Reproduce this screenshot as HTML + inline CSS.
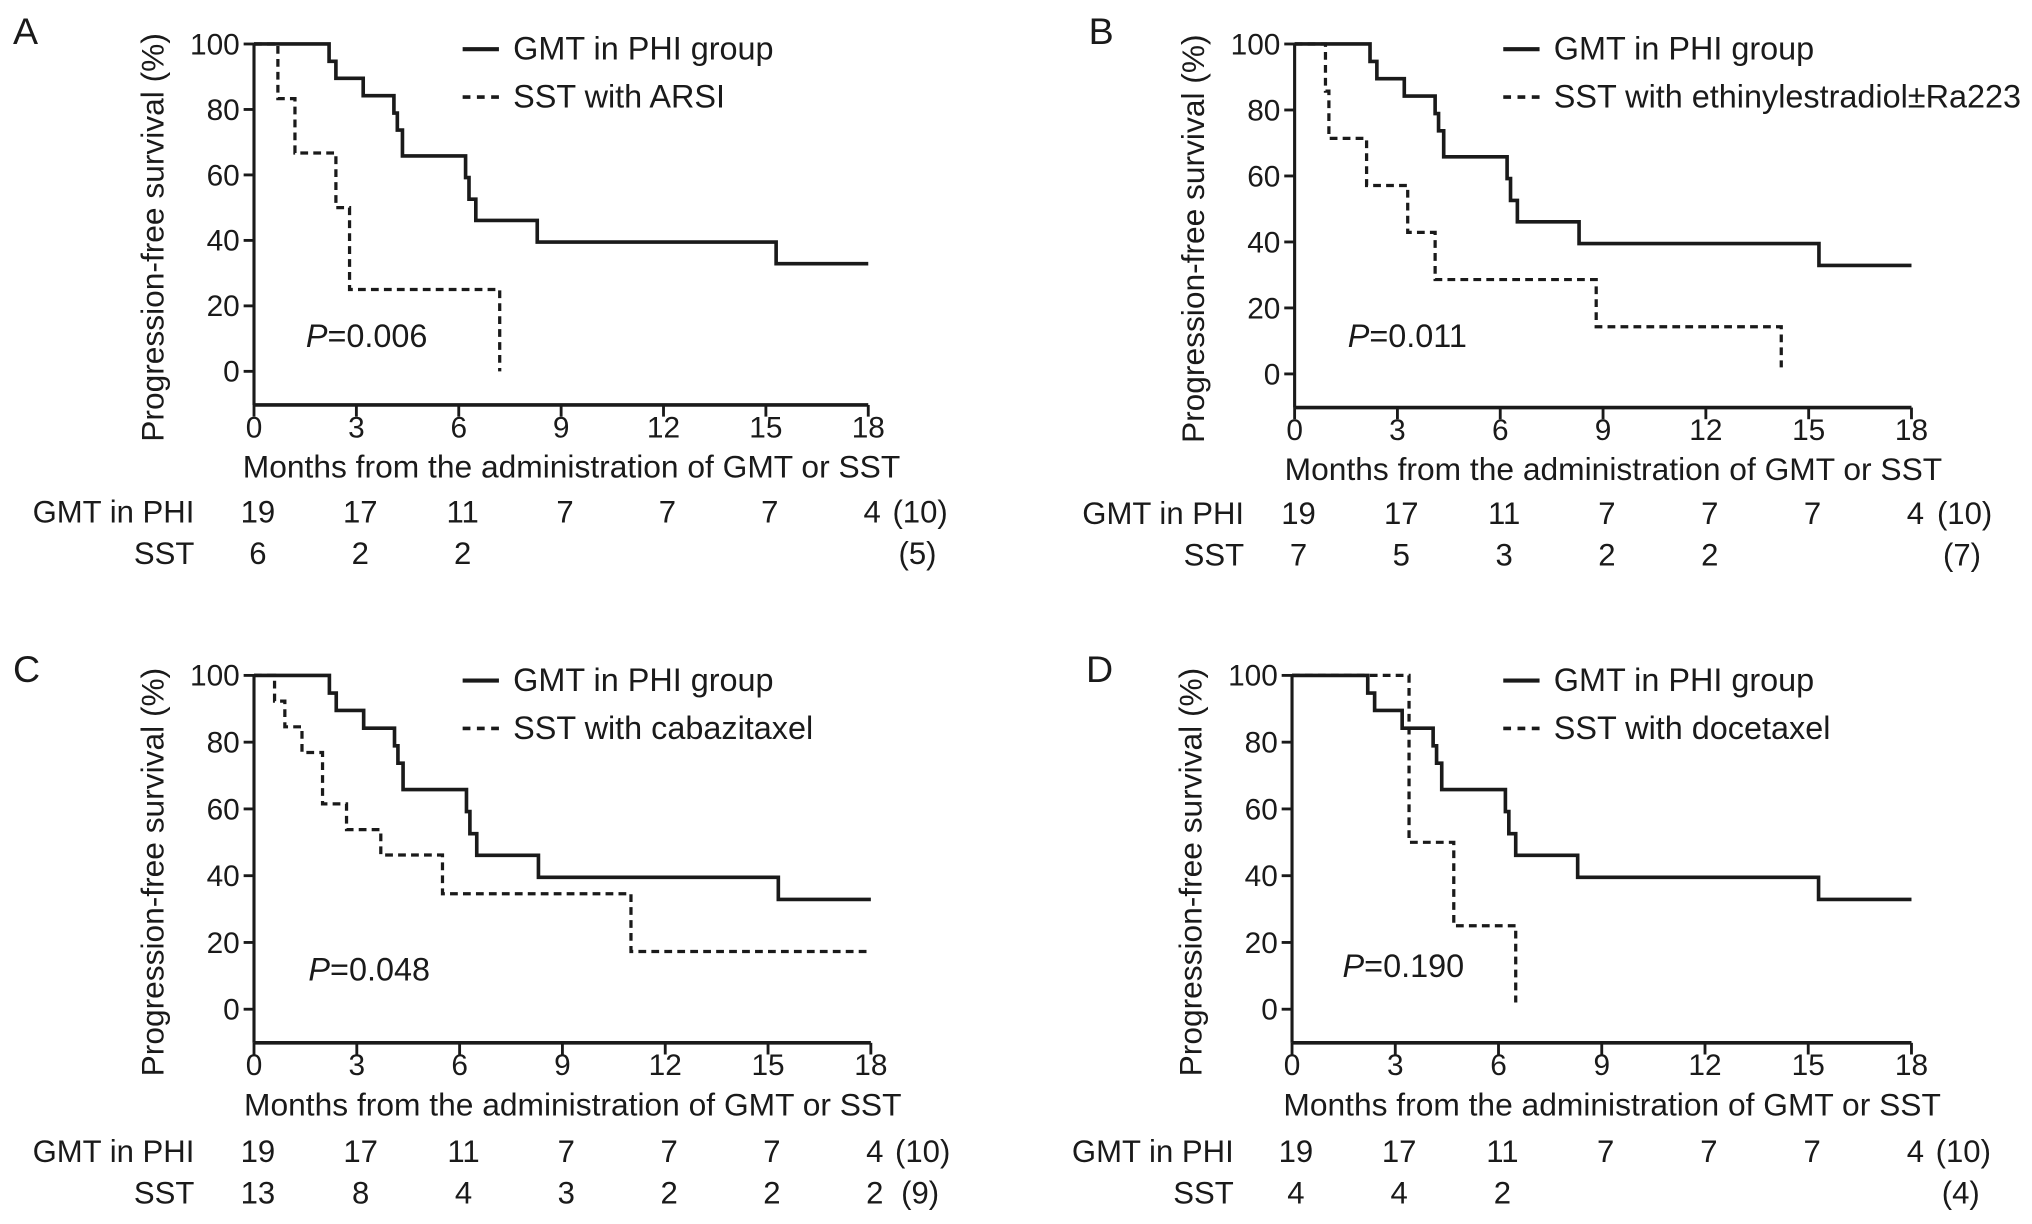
<!DOCTYPE html>
<html><head><meta charset="utf-8"><style>
html,body{margin:0;padding:0;background:#fff;}
svg{display:block;}
text{font-family:"Liberation Sans Narrow","Liberation Sans",sans-serif;fill:#1a1a1a;}
</style></head><body>
<svg id="fig" width="2032" height="1224" viewBox="0 0 1568 946" preserveAspectRatio="none" xmlns="http://www.w3.org/2000/svg"></svg>
<script>
// ---- data ----
const xTicks = [0,3,6,9,12,15,18];
const yTicks = [0,20,40,60,80,100];
const gmtTimes = [0,2.2,2.4,3.2,4.1,4.2,4.35,6.2,6.3,6.5,8.3,15.3,18];
const gmtSurv  = [100,94.7,89.5,84.2,78.9,73.7,65.8,59.2,52.6,46.1,39.5,32.9,32.9];
const sstATimes = [0,0.7,1.2,2.4,2.8,7.2];
const sstASurv  = [100,83.3,66.7,50,25,0];
const sstBTimes = [0,0.9,1.0,2.1,3.3,4.1,8.8,14.2];
const sstBSurv  = [100,85.7,71.4,57.1,42.9,28.6,14.3,2];
const sstCTimes = [0,0.6,0.9,1.4,2.0,2.7,3.7,5.5,11.0,18];
const sstCSurv  = [100,92.3,84.6,76.9,61.5,53.8,46.2,34.6,17.3,17.3];
const sstDTimes = [0,3.4,4.7,6.5];
const sstDSurv  = [100,50,25,2];
const gmtRisk = ["19","17","11","7","7","7","4"];
const riskA = ["6","2","2","","","",""];
const riskB = ["7","5","3","2","2","",""];
const riskC = ["13","8","4","3","2","2","2"];
const riskD = ["4","4","2","","","",""];
const sstLabels = ["SST with ARSI","SST with ethinylestradiol±Ra223","SST with cabazitaxel","SST with docetaxel"];
const pValues = ["0.006","0.011","0.048","0.190"];
const sstTotals = ["(5)","(7)","(9)","(4)"];

const NS="http://www.w3.org/2000/svg";
const svg=document.getElementById('fig');
function mk(tag,attrs,parent){const e=document.createElementNS(NS,tag);for(const k in attrs)e.setAttribute(k,attrs[k]);(parent||svg).appendChild(e);return e;}
function txt(s,x,y,size,anchor,parent){const t=mk('text',{x:x,y:y,'font-size':size,'text-anchor':anchor||'start'},parent);t.textContent=s;return t;}

const panels=[
 {L:'A',x0:196,x1:670,y100:34,y0:287,ax:313,lab:[10,34],leg:357,P:[236,268],rows:[404,436],rl:150,tot:708,st:sstATimes,ss:sstASurv,risk:riskA},
 {L:'B',x0:999,x1:1475,y100:34,y0:289,ax:315,lab:[840,34],leg:1160,P:[1040,268],rows:[405,437],rl:960,tot:1514,st:sstBTimes,ss:sstBSurv,risk:riskB},
 {L:'C',x0:196,x1:672,y100:522,y0:780,ax:806,lab:[10,527],leg:357,P:[238,758],rows:[898,930],rl:150,tot:710,st:sstCTimes,ss:sstCSurv,risk:riskC},
 {L:'D',x0:997,x1:1475,y100:522,y0:780,ax:806,lab:[838,527],leg:1160,P:[1036,755],rows:[898,930],rl:952,tot:1513,st:sstDTimes,ss:sstDSurv,risk:riskD}
];

function stepPath(times,surv,X,Y){
  let d='M'+X(times[0])+','+Y(surv[0]);
  for(let i=1;i<times.length;i++){d+=' H'+X(times[i])+' V'+Y(surv[i]);}
  return d;
}

panels.forEach((p,pi)=>{
  const g=mk('g',{});
  
  
  const X=t=>p.x0+(p.x1-p.x0)*t/18;
  const Y=v=>p.y0+(p.y100-p.y0)*v/100;
  const lab=txt(p.L,p.lab[0],p.lab[1],29,'start',g);
  
  
  const ya=mk('line',{x1:p.x0,y1:Y(100),x2:p.x0,y2:p.ax,stroke:'#1a1a1a','stroke-width':2.4},g);
  
  
  const xa=mk('line',{x1:p.x0,y1:p.ax,x2:p.x1,y2:p.ax,stroke:'#1a1a1a','stroke-width':2.8},g);
  
  
  yTicks.forEach(v=>{
    const tk=mk('line',{x1:p.x0-8,y1:Y(v),x2:p.x0,y2:Y(v),stroke:'#1a1a1a','stroke-width':2.2},g);
    
    
    const tl=txt(String(v),p.x0-11,Y(v)+8,23,'end',g);
    
    
  });
  xTicks.forEach(v=>{
    const tk=mk('line',{x1:X(v),y1:p.ax,x2:X(v),y2:p.ax+9,stroke:'#1a1a1a','stroke-width':2.2},g);
    
    
    const tl=txt(String(v),X(v),p.ax+25,23,'middle',g);
    
    
  });
  const yt=txt('Progression-free survival (%)',0,0,24.5,'middle',g);
  yt.setAttribute('transform','translate('+(p.x0-70)+','+((p.y100+p.ax)/2+10)+') rotate(-90)');
  
  
  const xt=txt('Months from the administration of GMT or SST',(p.x0+p.x1)/2+8,p.ax+56,24.5,'middle',g);
  
  
  const c1=mk('path',{d:stepPath(gmtTimes,gmtSurv,X,Y),fill:'none',stroke:'#1a1a1a','stroke-width':2.8},g);
  
  
  const c2=mk('path',{d:stepPath(p.st,p.ss,X,Y),fill:'none',stroke:'#1a1a1a','stroke-width':2.5,'stroke-dasharray':'6,4'},g);
  
  
  const l1=mk('line',{x1:p.leg,y1:p.y100+4,x2:p.leg+28,y2:p.y100+4,stroke:'#1a1a1a','stroke-width':3.2},g);
  
  
  const lt1=txt('GMT in PHI group',p.leg+39,p.y100+12,25,'start',g);
  
  
  const l2=mk('line',{x1:p.leg,y1:p.y100+41,x2:p.leg+28,y2:p.y100+41,stroke:'#1a1a1a','stroke-width':2.8,'stroke-dasharray':'6,5'},g);
  
  
  const lt2=txt(sstLabels[pi],p.leg+39,p.y100+49,25,'start',g);
  
  
  const pv=mk('text',{x:p.P[0],y:p.P[1],'font-size':25},g);
  
  
  const pi1=document.createElementNS(NS,'tspan');pi1.setAttribute('font-style','italic');pi1.textContent='P';pv.appendChild(pi1);
  const pi2=document.createElementNS(NS,'tspan');pi2.textContent='='+pValues[pi];pv.appendChild(pi2);
  const r1=txt('GMT in PHI',p.rl,p.rows[0],24,'end',g);
  
  
  const r2=txt('SST',p.rl,p.rows[1],24,'end',g);
  
  
  xTicks.forEach((v,i)=>{
    const a=txt(gmtRisk[i],X(v)+3,p.rows[0],24,'middle',g);
    
    
    if(p.risk[i]){
      const b=txt(p.risk[i],X(v)+3,p.rows[1],24,'middle',g);
      
      
    }
  });
  const t1=txt('(10)',p.tot+2,p.rows[0],24,'middle',g);
  
  
  const t2=txt(sstTotals[pi],p.tot,p.rows[1],24,'middle',g);
  
  
});
</script>
</body></html>
